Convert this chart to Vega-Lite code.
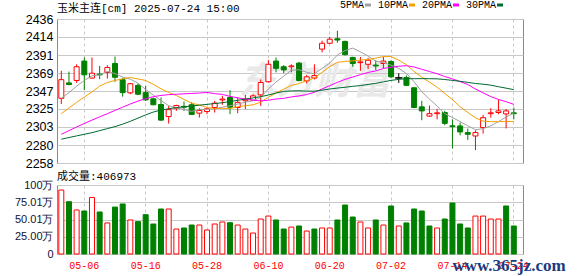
{
"$schema": "https://vega.github.io/schema/vega-lite/v6.json",
"padding": {"left": 13, "top": 0, "right": 0, "bottom": 0},
"spacing": 0,
"config": {"font": "Liberation Sans", "view": {"stroke": "#8a8a8a", "strokeWidth": 1}},
"datasets": {"k": [
{"d":"04-28","o":2338,"h":2372,"l":2331,"c":2361,"dir":"up","v":92.7,"vd":"up","5PMA":2338,"10PMA":2319,"20PMA":2293.5,"30PMA":2287.4},
{"d":"04-29","o":2357,"h":2371,"l":2354,"c":2355,"dir":"down","v":75.8,"vd":"down","5PMA":2345,"10PMA":2326,"20PMA":2298,"30PMA":2289.5},
{"d":"04-30","o":2360,"h":2380,"l":2357,"c":2377,"dir":"up","v":63.8,"vd":"up","5PMA":2353,"10PMA":2333,"20PMA":2302.5,"30PMA":2291.5},
{"d":"05-06","o":2384,"h":2388.5,"l":2348,"c":2367,"dir":"down","v":62.3,"vd":"down","5PMA":2360,"10PMA":2339.5,"20PMA":2306.8,"30PMA":2293.5},
{"d":"05-07","o":2363,"h":2388.5,"l":2362.5,"c":2369,"dir":"up","v":82,"vd":"up","5PMA":2365.8,"10PMA":2346,"20PMA":2311,"30PMA":2295.5},
{"d":"05-08","o":2368,"h":2378,"l":2361.7,"c":2367,"dir":"down","v":60.9,"vd":"down","5PMA":2367,"10PMA":2353,"20PMA":2315,"30PMA":2298},
{"d":"05-09","o":2370,"h":2379,"l":2362.5,"c":2376,"dir":"up","v":45,"vd":"up","5PMA":2371.2,"10PMA":2357.5,"20PMA":2319,"30PMA":2300.5},
{"d":"05-12","o":2381,"h":2389.7,"l":2358.4,"c":2364,"dir":"down","v":68,"vd":"down","5PMA":2368.6,"10PMA":2360,"20PMA":2323,"30PMA":2303},
{"d":"05-13","o":2361,"h":2363.3,"l":2340,"c":2345,"dir":"down","v":72.5,"vd":"down","5PMA":2364.2,"10PMA":2362,"20PMA":2327,"30PMA":2306},
{"d":"05-14","o":2344.7,"h":2357,"l":2343,"c":2356,"dir":"up","v":49.3,"vd":"up","5PMA":2361.6,"10PMA":2363.7,"20PMA":2331,"30PMA":2309.5},
{"d":"05-15","o":2354,"h":2356.3,"l":2341.8,"c":2343,"dir":"down","v":46.9,"vd":"down","5PMA":2356.8,"10PMA":2361.9,"20PMA":2334.5,"30PMA":2313.5},
{"d":"05-16","o":2345,"h":2353.4,"l":2334.8,"c":2336,"dir":"down","v":57,"vd":"down","5PMA":2348.8,"10PMA":2360,"20PMA":2337.5,"30PMA":2317.5},
{"d":"05-19","o":2337.3,"h":2339,"l":2329.5,"c":2330,"dir":"down","v":43.5,"vd":"down","5PMA":2342,"10PMA":2355.3,"20PMA":2340,"30PMA":2321},
{"d":"05-20","o":2330.3,"h":2339,"l":2310,"c":2311,"dir":"down","v":65.2,"vd":"down","5PMA":2335.2,"10PMA":2349.7,"20PMA":2341.5,"30PMA":2323.5},
{"d":"05-21","o":2315.4,"h":2328.6,"l":2306.7,"c":2324,"dir":"up","v":65.2,"vd":"up","5PMA":2328.8,"10PMA":2345.2,"20PMA":2342.5,"30PMA":2325},
{"d":"05-22","o":2325.7,"h":2330,"l":2322.4,"c":2329,"dir":"up","v":36.2,"vd":"up","5PMA":2326,"10PMA":2341.4,"20PMA":2343,"30PMA":2326.5},
{"d":"05-23","o":2328,"h":2334,"l":2322.4,"c":2327,"dir":"down","v":37.7,"vd":"down","5PMA":2324.2,"10PMA":2336.5,"20PMA":2343.5,"30PMA":2327.5},
{"d":"05-26","o":2330,"h":2333,"l":2317.5,"c":2318,"dir":"down","v":42,"vd":"down","5PMA":2321.8,"10PMA":2331.9,"20PMA":2344,"30PMA":2328.5},
{"d":"05-27","o":2319.6,"h":2325.7,"l":2314.2,"c":2323,"dir":"up","v":42,"vd":"up","5PMA":2324.2,"10PMA":2329.7,"20PMA":2344.5,"30PMA":2329.5},
{"d":"05-28","o":2321.6,"h":2326.6,"l":2318.3,"c":2325,"dir":"up","v":34.8,"vd":"up","5PMA":2324.4,"10PMA":2326.6,"20PMA":2345.2,"30PMA":2330.5},
{"d":"05-29","o":2326.6,"h":2334.8,"l":2320.4,"c":2332,"dir":"up","v":43.5,"vd":"up","5PMA":2325,"10PMA":2325.5,"20PMA":2343.7,"30PMA":2331.5},
{"d":"05-30","o":2336,"h":2341,"l":2330,"c":2337,"dir":"up","v":46.4,"vd":"up","5PMA":2327,"10PMA":2325.6,"20PMA":2342.8,"30PMA":2332.5},
{"d":"06-03","o":2339,"h":2348,"l":2318.3,"c":2327,"dir":"down","v":45.4,"vd":"down","5PMA":2328.8,"10PMA":2325.3,"20PMA":2340.3,"30PMA":2334},
{"d":"06-04","o":2326.6,"h":2339,"l":2319.6,"c":2333,"dir":"up","v":42,"vd":"up","5PMA":2330.8,"10PMA":2327.5,"20PMA":2338.6,"30PMA":2335.5},
{"d":"06-05","o":2335,"h":2342.2,"l":2324.5,"c":2337,"dir":"up","v":36.2,"vd":"up","5PMA":2333.2,"10PMA":2328.8,"20PMA":2337,"30PMA":2337},
{"d":"06-06","o":2335.6,"h":2343,"l":2334.8,"c":2341,"dir":"up","v":30.4,"vd":"up","5PMA":2335,"10PMA":2330,"20PMA":2335.7,"30PMA":2338.5},
{"d":"06-09","o":2342.2,"h":2361.2,"l":2328.6,"c":2357.5,"dir":"up","v":50.7,"vd":"up","5PMA":2339.1,"10PMA":2333.1,"20PMA":2334.8,"30PMA":2340},
{"d":"06-10","o":2358.4,"h":2385.2,"l":2357.5,"c":2380,"dir":"up","v":55,"vd":"up","5PMA":2349.7,"10PMA":2339.3,"20PMA":2335.6,"30PMA":2342},
{"d":"06-11","o":2384,"h":2388.5,"l":2370,"c":2375,"dir":"down","v":49.3,"vd":"down","5PMA":2358.1,"10PMA":2344.5,"20PMA":2337.1,"30PMA":2344.5},
{"d":"06-12","o":2377,"h":2379,"l":2369,"c":2373,"dir":"down","v":36.2,"vd":"down","5PMA":2365.3,"10PMA":2349.3,"20PMA":2337.9,"30PMA":2346.5},
{"d":"06-13","o":2377,"h":2380,"l":2370,"c":2378,"dir":"up","v":39,"vd":"up","5PMA":2372.7,"10PMA":2353.9,"20PMA":2339.7,"30PMA":2347.1},
{"d":"06-16","o":2381.5,"h":2383,"l":2358.8,"c":2360,"dir":"down","v":40.6,"vd":"down","5PMA":2373.2,"10PMA":2356.2,"20PMA":2340.9,"30PMA":2347.3},
{"d":"06-17","o":2359.6,"h":2367,"l":2356.3,"c":2364.5,"dir":"up","v":33.3,"vd":"up","5PMA":2370.1,"10PMA":2359.9,"20PMA":2342.6,"30PMA":2346.8},
{"d":"06-18","o":2363,"h":2380,"l":2361.2,"c":2366,"dir":"up","v":36.2,"vd":"down","5PMA":2368.3,"10PMA":2363.2,"20PMA":2345.4,"30PMA":2346.8},
{"d":"06-19","o":2398.8,"h":2409.2,"l":2394.7,"c":2406,"dir":"up","v":37.7,"vd":"up","5PMA":2374.9,"10PMA":2370.1,"20PMA":2349.5,"30PMA":2348},
{"d":"06-20","o":2406,"h":2414,"l":2405,"c":2411,"dir":"up","v":37.7,"vd":"up","5PMA":2381.5,"10PMA":2377.1,"20PMA":2353.6,"30PMA":2349.5},
{"d":"06-23","o":2411.6,"h":2421.5,"l":2406.7,"c":2410,"dir":"down","v":49.3,"vd":"down","5PMA":2391.5,"10PMA":2382.4,"20PMA":2357.7,"30PMA":2350.6},
{"d":"06-24","o":2408.3,"h":2409.2,"l":2390.6,"c":2392,"dir":"down","v":71,"vd":"down","5PMA":2397,"10PMA":2383.6,"20PMA":2361.4,"30PMA":2351.6},
{"d":"06-25","o":2388.5,"h":2389.3,"l":2377,"c":2381,"dir":"down","v":53.6,"vd":"down","5PMA":2400,"10PMA":2384.2,"20PMA":2364.3,"30PMA":2352.8},
{"d":"06-26","o":2382,"h":2389,"l":2372,"c":2383,"dir":"up","v":46.4,"vd":"up","5PMA":2395.4,"10PMA":2385.2,"20PMA":2367.2,"30PMA":2353.7},
{"d":"06-27","o":2380,"h":2388,"l":2374,"c":2385,"dir":"up","v":37.7,"vd":"up","5PMA":2390.2,"10PMA":2385.9,"20PMA":2369.9,"30PMA":2355.1},
{"d":"06-30","o":2379,"h":2385,"l":2373,"c":2378,"dir":"down","v":49.3,"vd":"down","5PMA":2383.8,"10PMA":2387.7,"20PMA":2371.9,"30PMA":2356.5},
{"d":"07-01","o":2381,"h":2389,"l":2375,"c":2384,"dir":"up","v":42,"vd":"up","5PMA":2382.2,"10PMA":2389.6,"20PMA":2374.8,"30PMA":2358.3},
{"d":"07-02","o":2383.5,"h":2385.2,"l":2362.9,"c":2364.5,"dir":"down","v":69.6,"vd":"down","5PMA":2378.9,"10PMA":2389.5,"20PMA":2376.3,"30PMA":2360.1},
{"d":"07-03","o":2363.3,"h":2369,"l":2357,"c":2363,"dir":"flat","v":40.6,"vd":"up","5PMA":2374.9,"10PMA":2385.2,"20PMA":2377.6,"30PMA":2361.4},
{"d":"07-04","o":2363.7,"h":2366.2,"l":2353,"c":2354,"dir":"down","v":45,"vd":"down","5PMA":2368.7,"10PMA":2379.5,"20PMA":2378.3,"30PMA":2362.2},
{"d":"07-07","o":2351,"h":2351.3,"l":2325.7,"c":2326.6,"dir":"down","v":65.2,"vd":"down","5PMA":2358.4,"10PMA":2371.1,"20PMA":2376.7,"30PMA":2362.2},
{"d":"07-08","o":2327.4,"h":2334.8,"l":2310.9,"c":2322.4,"dir":"down","v":62.3,"vd":"down","5PMA":2346.1,"10PMA":2364.2,"20PMA":2373.9,"30PMA":2362.3},
{"d":"07-09","o":2316,"h":2329,"l":2315,"c":2319,"dir":"up","v":40.6,"vd":"down","5PMA":2337,"10PMA":2358,"20PMA":2371.1,"30PMA":2362.2},
{"d":"07-10","o":2319,"h":2325,"l":2312,"c":2320,"dir":"up","v":37.7,"vd":"up","5PMA":2328.4,"10PMA":2351.7,"20PMA":2368.4,"30PMA":2362},
{"d":"07-11","o":2320.4,"h":2322.5,"l":2304.7,"c":2307,"dir":"down","v":50.7,"vd":"down","5PMA":2319,"10PMA":2343.9,"20PMA":2364.9,"30PMA":2361.2},
{"d":"07-14","o":2304,"h":2312,"l":2276,"c":2303,"dir":"down","v":73.9,"vd":"down","5PMA":2314.3,"10PMA":2336.4,"20PMA":2362,"30PMA":2360.1},
{"d":"07-15","o":2303.8,"h":2308,"l":2292.3,"c":2296.4,"dir":"down","v":43.5,"vd":"down","5PMA":2309.1,"10PMA":2327.6,"20PMA":2358.6,"30PMA":2359},
{"d":"07-16","o":2295.6,"h":2300.5,"l":2286.5,"c":2293.5,"dir":"down","v":37.7,"vd":"down","5PMA":2304,"10PMA":2320.5,"20PMA":2355,"30PMA":2357.7},
{"d":"07-17","o":2291.4,"h":2298.5,"l":2274,"c":2295.6,"dir":"up","v":55,"vd":"up","5PMA":2299.1,"10PMA":2313.8,"20PMA":2349.5,"30PMA":2356.3},
{"d":"07-18","o":2301.8,"h":2317.5,"l":2294.3,"c":2314,"dir":"up","v":55,"vd":"up","5PMA":2300.5,"10PMA":2309.8,"20PMA":2344.6,"30PMA":2355.4},
{"d":"07-21","o":2319,"h":2325.7,"l":2314,"c":2320,"dir":"up","v":50.7,"vd":"up","5PMA":2303.9,"10PMA":2309.1,"20PMA":2340.1,"30PMA":2354.2},
{"d":"07-22","o":2320.4,"h":2336.5,"l":2318.3,"c":2322.4,"dir":"up","v":50.7,"vd":"up","5PMA":2309.1,"10PMA":2309.1,"20PMA":2336.6,"30PMA":2352.3},
{"d":"07-23","o":2318.7,"h":2324.9,"l":2300.7,"c":2322.4,"dir":"up","v":69.6,"vd":"down","5PMA":2314.9,"10PMA":2309.4,"20PMA":2333.7,"30PMA":2350.5},
{"d":"07-24","o":2320,"h":2326.6,"l":2312,"c":2319,"dir":"down","v":40.6,"vd":"down","5PMA":2319.6,"10PMA":2309.3,"20PMA":2330.5,"30PMA":2348.7}
]},
"vconcat": [
{
"width": 466, "height": 144,
"data": {"name": "k"},
"title": {"text": "玉米主连[cm] 2025-07-24 15:00", "anchor": "start", "frame": "group", "font": "Liberation Mono, Noto Sans CJK SC", "fontSize": 11, "fontWeight": "normal", "color": "#000000", "offset": 3, "dy": 4},
"encoding": {
  "x": {"field": "d", "type": "ordinal", "scale": {"type": "band", "paddingInner": 0, "paddingOuter": 0.38, "align": 0.08},
        "axis": {"title": null, "labels": false, "ticks": false, "domain": false, "grid": true, "gridDash": [3,3], "gridColor": "#c8c8c8", "bandPosition": 0.5,
                 "values": ["05-06","05-16","05-28","06-10","06-20","07-02","07-14","07-24"]}}
},
"layer": [
  {"data": {"values": [{}]}, "mark": {"type": "text", "text": "东方财富", "fontSize": 38, "fontWeight": "bold", "font": "Noto Sans CJK SC", "color": "#e9e9e9", "fontStyle": "italic"},
   "encoding": {"x": {"datum": "06-18"}, "y": {"datum": 2357, "type": "quantitative"}}},
  {"transform": [{"filter": "datum.dir == 'up'"}], "mark": {"type": "rule", "color": "#ff0000", "strokeWidth": 1},
   "encoding": {"y": {"field": "l", "type": "quantitative", "scale": {"domain": [2258, 2436], "nice": false, "zero": false},
      "axis": {"title": null, "values": [2258,2280,2303,2325,2347,2369,2391,2414,2436], "tickCount": 20, "format": "d", "labelOverlap": false, "grid": true, "gridColor": "#c8c8c8", "ticks": false, "domain": false, "labelFontSize": 12.5, "labelColor": "#000000", "labelPadding": 4}},
      "y2": {"field": "h"}}},
  {"transform": [{"filter": "datum.dir == 'up'"}], "mark": {"type": "bar", "fill": "#ffffff", "stroke": "#ff0000", "strokeWidth": 1, "size": 5},
   "encoding": {"y": {"field": "o", "type": "quantitative"}, "y2": {"field": "c"}}},
  {"transform": [{"filter": "datum.dir == 'down'"}], "mark": {"type": "rule", "color": "#008000", "strokeWidth": 1},
   "encoding": {"y": {"field": "l", "type": "quantitative"}, "y2": {"field": "h"}}},
  {"transform": [{"filter": "datum.dir == 'down'"}], "mark": {"type": "bar", "fill": "#008000", "stroke": "#008000", "strokeWidth": 1, "size": 5},
   "encoding": {"y": {"field": "o", "type": "quantitative"}, "y2": {"field": "c"}}},
  {"transform": [{"filter": "datum.dir == 'flat'"}], "mark": {"type": "rule", "color": "#000000", "strokeWidth": 1},
   "encoding": {"y": {"field": "l", "type": "quantitative"}, "y2": {"field": "h"}}},
  {"transform": [{"filter": "datum.dir == 'flat'"}], "mark": {"type": "bar", "fill": "#000000", "stroke": "#000000", "strokeWidth": 1, "size": 7},
   "encoding": {"y": {"field": "o", "type": "quantitative"}, "y2": {"field": "c"}}},
  {"transform": [{"fold": ["5PMA","10PMA","20PMA","30PMA"], "as": ["key","value"]}],
   "mark": {"type": "line", "strokeWidth": 1},
   "encoding": {"y": {"field": "value", "type": "quantitative"},
     "color": {"field": "key", "type": "nominal",
       "scale": {"domain": ["5PMA","10PMA","20PMA","30PMA"], "range": ["#a0a0a0","#f5a000","#ff00ff","#006a30"]},
       "legend": {"orient": "none", "legendX": 306, "legendY": -19, "direction": "horizontal", "title": null,
         "labelFont": "Liberation Mono", "labelFontSize": 10, "labelColor": "#000000",
         "symbolType": "stroke", "symbolSize": 36, "symbolStrokeWidth": 3,
         "labelAlign": "right", "labelOffset": -9, "columnPadding": 0, "padding": 0}}}}
]
},
{
"width": 466, "height": 69,
"data": {"name": "k"},
"title": {"text": "成交量:406973", "anchor": "start", "frame": "group", "font": "Liberation Mono, Noto Sans CJK SC", "fontSize": 11, "fontWeight": "normal", "color": "#000000", "offset": -3},
"encoding": {
  "x": {"field": "d", "type": "ordinal", "scale": {"type": "band", "paddingInner": 0, "paddingOuter": 0.38, "align": 0.08},
        "axis": {"title": null, "labelAngle": 0, "ticks": false, "domain": false, "grid": true, "gridDash": [3,3], "gridColor": "#c8c8c8", "bandPosition": 0.5, "labelOverlap": false,
                 "labelColor": "#ff0000", "labelFont": "Liberation Mono", "labelFontSize": 10, "labelPadding": 6,
                 "values": ["05-06","05-16","05-28","06-10","06-20","07-02","07-14","07-24"]}}
},
"layer": [
  {"transform": [{"filter": "datum.vd == 'up'"}], "mark": {"type": "bar", "fill": "#ffffff", "stroke": "#ff0000", "strokeWidth": 1, "size": 5},
   "encoding": {"y": {"field": "v", "type": "quantitative", "scale": {"domain": [0, 100], "nice": false},
      "axis": {"title": null, "values": [0,25,50,75,100], "tickCount": 10, "labelOverlap": false, "grid": true, "gridColor": "#c8c8c8", "ticks": false, "domain": false, "labelFontSize": 11, "labelColor": "#111133", "labelPadding": 4,
        "labelExpr": "datum.value == 0 ? '0' : datum.value == 25 ? '25.00万' : datum.value == 50 ? '50.01万' : datum.value == 75 ? '75.01万' : '100万'"}}}},
  {"transform": [{"filter": "datum.vd == 'down'"}], "mark": {"type": "bar", "fill": "#008000", "stroke": "#008000", "strokeWidth": 1, "size": 5},
   "encoding": {"y": {"field": "v", "type": "quantitative"}}},
  {"data": {"values": [{}]}, "mark": {"type": "text", "text": "www.365jz.com", "font": "Liberation Serif", "fontSize": 17, "fontWeight": "bold", "color": "#1c3a7e", "align": "left", "baseline": "alphabetic"},
   "encoding": {"x": {"datum": "07-14"}, "y": {"datum": -24, "type": "quantitative"}}}
]
}
]
}
